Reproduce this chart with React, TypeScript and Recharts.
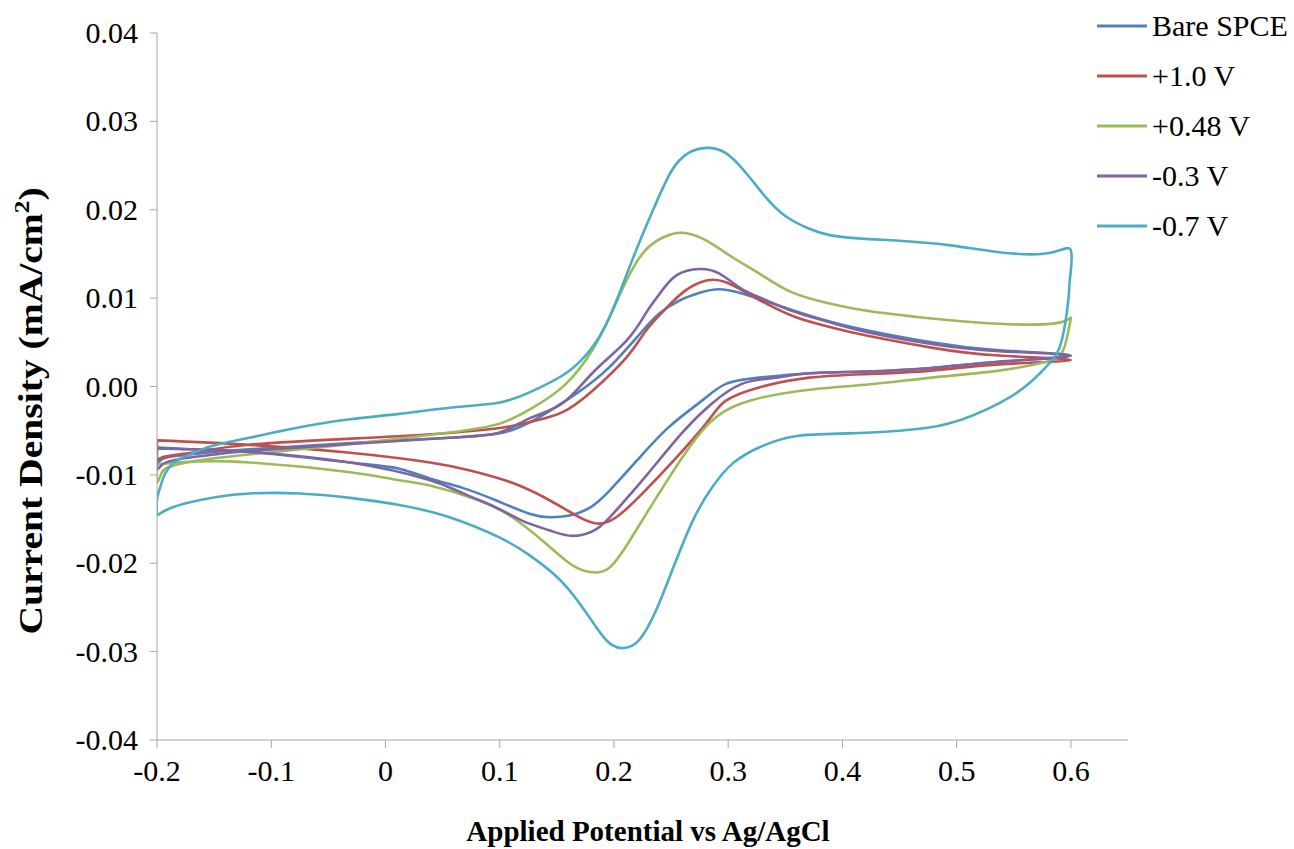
import { LineChart, Line, XAxis, YAxis, Label } from "recharts";

// potential (V vs Ag/AgCl), current density (mA/cm2) — forward scan then reverse scan
const bareSpce: [number, number][] = [
  [-0.2, -0.007], [-0.2, -0.0085], [-0.195, -0.0082], [-0.18, -0.0078], [-0.15, -0.0074],
  [-0.119, -0.0071], [-0.031, -0.0064], [0.056, -0.0058], [0.1, -0.0053], [0.13, -0.0038],
  [0.167, -0.0008], [0.196, 0.0022], [0.225, 0.0063], [0.24, 0.0083], [0.257, 0.0097],
  [0.275, 0.0106], [0.292, 0.011], [0.31, 0.0106], [0.327, 0.0099], [0.355, 0.0087],
  [0.385, 0.0075], [0.42, 0.0064], [0.478, 0.005], [0.537, 0.0041], [0.6, 0.0035],
  [0.537, 0.0028], [0.478, 0.0021], [0.42, 0.0017], [0.371, 0.0015], [0.327, 0.001],
  [0.298, 0.0003], [0.277, -0.0016], [0.248, -0.0046], [0.22, -0.0084], [0.196, -0.0118],
  [0.179, -0.0137], [0.161, -0.0146], [0.144, -0.0148], [0.126, -0.0144], [0.097, -0.0129],
  [0.068, -0.0115], [0.039, -0.0104], [0.012, -0.0093], [-0.031, -0.0086], [-0.119, -0.0074],
  [-0.17, -0.0071], [-0.2, -0.007],
];

const plus1V: [number, number][] = [
  [-0.2, -0.0061], [-0.2, -0.0082], [-0.195, -0.008], [-0.17, -0.0075], [-0.12, -0.0066],
  [-0.03, -0.0059], [0.04, -0.0054], [0.1, -0.0047], [0.13, -0.0039], [0.155, -0.0029],
  [0.181, -0.0005], [0.211, 0.0033], [0.228, 0.0063], [0.246, 0.0089], [0.263, 0.0109],
  [0.281, 0.012], [0.298, 0.0118], [0.316, 0.0106], [0.333, 0.0094], [0.36, 0.0078],
  [0.39, 0.0067], [0.42, 0.0058], [0.478, 0.0044], [0.537, 0.0035], [0.6, 0.003],
  [0.537, 0.0025], [0.478, 0.0018], [0.42, 0.0014], [0.371, 0.001], [0.327, -0.0001],
  [0.298, -0.0016], [0.283, -0.0038], [0.255, -0.008], [0.225, -0.0121], [0.202, -0.0148],
  [0.185, -0.0155], [0.167, -0.0146], [0.144, -0.0129], [0.111, -0.0109], [0.074, -0.0095],
  [0.039, -0.0086], [-0.031, -0.0075], [-0.119, -0.0066], [-0.2, -0.0061],
];

const plus048V: [number, number][] = [
  [-0.2, -0.0088], [-0.2, -0.0108], [-0.196, -0.0098], [-0.19, -0.0091], [-0.17, -0.0085],
  [-0.12, -0.0077], [-0.03, -0.0065], [0.056, -0.0052], [0.1, -0.0042], [0.129, -0.0024],
  [0.158, 0.0003], [0.181, 0.0041], [0.196, 0.0078], [0.211, 0.012], [0.226, 0.0152],
  [0.242, 0.0168], [0.26, 0.0174], [0.281, 0.0165], [0.304, 0.0146], [0.327, 0.0128],
  [0.355, 0.0107], [0.385, 0.0095], [0.42, 0.0086], [0.478, 0.0077], [0.537, 0.0071],
  [0.589, 0.0072], [0.6, 0.0077], [0.596, 0.0052], [0.589, 0.0033], [0.572, 0.0026],
  [0.537, 0.0018], [0.478, 0.001], [0.42, 0.0002], [0.362, -0.0005],
  [0.312, -0.0019], [0.283, -0.0042], [0.26, -0.008], [0.237, -0.0126], [0.214, -0.0174],
  [0.196, -0.0205], [0.179, -0.021], [0.161, -0.02], [0.137, -0.0174], [0.111, -0.0148],
  [0.082, -0.0129], [0.039, -0.0112], [0.012, -0.0106], [-0.031, -0.0097], [-0.119, -0.0086],
  [-0.17, -0.0085], [-0.2, -0.0088],
];

const minus03V: [number, number][] = [
  [-0.2, -0.0069], [-0.2, -0.0092], [-0.195, -0.0088], [-0.18, -0.0082], [-0.15, -0.0077],
  [-0.119, -0.0073], [-0.031, -0.0065], [0.056, -0.0058], [0.1, -0.0052], [0.126, -0.0036],
  [0.155, -0.0019], [0.181, 0.0015], [0.211, 0.0052], [0.228, 0.0083], [0.24, 0.0105],
  [0.255, 0.0126], [0.275, 0.0133], [0.292, 0.0128], [0.31, 0.0112], [0.327, 0.0101],
  [0.355, 0.0086], [0.385, 0.0074], [0.42, 0.0062], [0.478, 0.0048], [0.537, 0.004],
  [0.6, 0.0035], [0.537, 0.0028], [0.478, 0.0021], [0.42, 0.0017], [0.371, 0.0015],
  [0.342, 0.001], [0.312, 0.0003], [0.285, -0.002], [0.26, -0.0052],
  [0.225, -0.0106], [0.202, -0.014], [0.185, -0.0161], [0.164, -0.0169], [0.144, -0.0163],
  [0.12, -0.0152], [0.097, -0.0137], [0.068, -0.0121], [0.039, -0.0106], [-0.031, -0.0086],
  [-0.119, -0.0074], [-0.17, -0.0071], [-0.2, -0.0069],
];

const minus07V: [number, number][] = [
  [-0.2, -0.0146], [-0.2, -0.0128], [-0.197, -0.0113], [-0.193, -0.0099], [-0.186, -0.0087],
  [-0.177, -0.008], [-0.162, -0.0072], [-0.148, -0.0066], [-0.119, -0.0058], [-0.101, -0.0053],
  [-0.075, -0.0046], [-0.031, -0.0037], [0.012, -0.0031], [0.056, -0.0024], [0.1, -0.0018],
  [0.129, -0.0005], [0.158, 0.0015], [0.179, 0.0041], [0.196, 0.0078], [0.216, 0.0143],
  [0.234, 0.0199], [0.25, 0.0243], [0.265, 0.0264], [0.281, 0.027], [0.298, 0.0264],
  [0.316, 0.0241], [0.333, 0.0214], [0.35, 0.0193], [0.37, 0.0179], [0.39, 0.0171],
  [0.42, 0.0167], [0.45, 0.0165], [0.493, 0.016], [0.537, 0.0152], [0.581, 0.0151], [0.6, 0.0154],
  [0.599, 0.012], [0.598, 0.0101], [0.592, 0.0052], [0.581, 0.0026], [0.563, 0.0003],
  [0.537, -0.0019], [0.493, -0.0042], [0.45, -0.005], [0.406, -0.0053], [0.36, -0.0056],
  [0.327, -0.0069], [0.304, -0.0087], [0.286, -0.0114], [0.269, -0.0152],
  [0.251, -0.0208], [0.237, -0.0253], [0.222, -0.0287], [0.207, -0.0296], [0.194, -0.0288],
  [0.18, -0.0264], [0.165, -0.0237], [0.148, -0.0213], [0.125, -0.019], [0.1, -0.0171], [0.056, -0.0148],
  [0.012, -0.0134], [-0.031, -0.0126], [-0.075, -0.0121], [-0.119, -0.0121], [-0.148, -0.0125],
  [-0.171, -0.0131], [-0.189, -0.0138], [-0.2, -0.0146],
];

const xTicks = [-0.2, -0.1, 0, 0.1, 0.2, 0.3, 0.4, 0.5, 0.6];
const yTicks = [-0.04, -0.03, -0.02, -0.01, 0, 0.01, 0.02, 0.03, 0.04];

const series = [
  { name: "Bare SPCE", color: "#4f81bd", points: bareSpce },
  { name: "+1.0 V", color: "#c0504d", points: plus1V },
  { name: "+0.48 V", color: "#9bbb59", points: plus048V },
  { name: "-0.3 V", color: "#8064a2", points: minus03V },
  { name: "-0.7 V", color: "#4bacc6", points: minus07V },
];

const FONT = "'Liberation Serif', 'Times New Roman', serif";
const AXIS = "#a6a6a6";

const toRows = (pts: [number, number][]) => pts.map(([x, y]) => ({ x, y }));

function XTick({ x, y, payload }: any) {
  const v = payload.value as number;
  return (
    <text x={x} y={y + 33} textAnchor="middle" fontFamily={FONT} fontSize={30} fill="#000">
      {v === 0 ? "0" : v.toFixed(1)}
    </text>
  );
}

function YTick({ x, y, payload }: any) {
  return (
    <text x={x} y={y + 10} textAnchor="end" fontFamily={FONT} fontSize={30} fill="#000">
      {(payload.value as number).toFixed(2)}
    </text>
  );
}

function YTitle() {
  return (
    <text
      transform="translate(42, 411) rotate(-90) scale(1.2,1)"
      textAnchor="middle"
      fontFamily={FONT}
      fontWeight="bold"
      fontSize={33}
      fill="#000"
    >
      Current Density (mA/cm
      <tspan fontSize={21} dy={-13}>2</tspan>
      <tspan dy={13}>)</tspan>
    </text>
  );
}

function XTitle() {
  return (
    <text x={648} y={841} textAnchor="middle" fontFamily={FONT} fontWeight="bold" fontSize={29} fill="#000">
      Applied Potential vs Ag/AgCl
    </text>
  );
}

export default function App() {
  return (
    <div style={{ position: "absolute", left: 0, top: 0, width: 1294, height: 849, background: "#fff" }}>
      <LineChart width={1294} height={849} margin={{ top: 33, right: 166, bottom: 49, left: 77 }}>
        <XAxis
          type="number"
          dataKey="x"
          domain={[-0.2, 0.65]}
          ticks={xTicks}
          allowDataOverflow
          height={60}
          stroke={AXIS}
          tickSize={8}
          tickMargin={0}
          tick={<XTick />}
        >
          <Label content={() => <XTitle />} />
        </XAxis>
        <YAxis
          type="number"
          dataKey="y"
          domain={[-0.04, 0.04]}
          ticks={yTicks}
          allowDataOverflow
          width={80}
          stroke={AXIS}
          tickSize={7}
          tickMargin={12}
          tick={<YTick />}
        >
          <Label content={() => <YTitle />} />
        </YAxis>
        {series.map((s) => (
          <Line
            key={s.name}
            data={toRows(s.points)}
            dataKey="y"
            name={s.name}
            type="natural"
            stroke={s.color}
            strokeWidth={2.6}
            dot={false}
            activeDot={false}
            isAnimationActive={false}
          />
        ))}
      </LineChart>
      <div style={{ position: "absolute", left: 1097, top: 1, fontFamily: FONT, fontSize: 30, color: "#000" }}>
        {series.map((s) => (
          <div key={s.name} style={{ display: "flex", alignItems: "center", height: 50 }}>
            <svg width={50} height={10} style={{ marginRight: 5 }}>
              <line x1={0} y1={5} x2={50} y2={5} stroke={s.color} strokeWidth={3} />
            </svg>
            <span style={{ whiteSpace: "nowrap" }}>{s.name}</span>
          </div>
        ))}
      </div>
    </div>
  );
}
